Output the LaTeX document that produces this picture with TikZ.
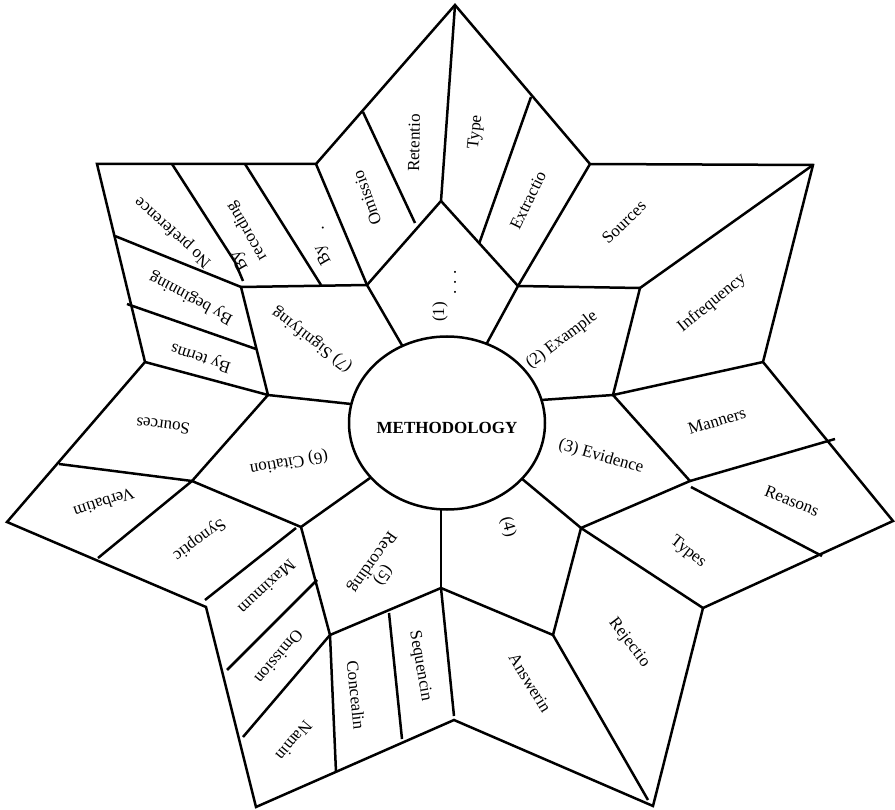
\documentclass[tikz,border=0pt]{standalone}
\usepackage{fontspec}
\setmainfont{Liberation Serif}
\usetikzlibrary{calc}
\begin{document}
\begin{tikzpicture}[x=1pt,y=-1pt,line width=2.5pt,line join=miter,
  lbl/.style={font=\fontsize{17}{19}\selectfont,inner sep=0pt}]
\useasboundingbox (0,0) rectangle (895,810);
% outer star
\coordinate (T) at (455,5);
\coordinate (URi) at (590,164);
\coordinate (URo) at (813,165);
\coordinate (Ri) at (763,362);
\coordinate (Ro) at (893,521);
\coordinate (LRi) at (703,608);
\coordinate (BRo) at (653,806);
\coordinate (Bi) at (454,720);
\coordinate (BLo) at (256,807);
\coordinate (LLi) at (206,607);
\coordinate (Lo) at (7,522);
\coordinate (Li) at (145,362);
\coordinate (ULo) at (97,164);
\coordinate (ULi) at (316,164);
% ring
\coordinate (M1) at (441,201);
\coordinate (A) at (367,285);
\coordinate (B) at (518,286);
\coordinate (C) at (640,288);
\coordinate (D) at (613,395);
\coordinate (E) at (690,481);
\coordinate (F) at (581,528);
\coordinate (G) at (553,635);
\coordinate (H) at (441,588);
\coordinate (I) at (330,635);
\coordinate (J) at (301,527);
\coordinate (K) at (192,481);
\coordinate (L) at (268,395);
\coordinate (N) at (241,287);
% ellipse points
\coordinate (eA) at (403,347);
\coordinate (eB) at (487,343);
\coordinate (eD) at (541,400);
\coordinate (eF) at (521,478);
\coordinate (eH) at (441,509);
\coordinate (eJ) at (370,478);
\coordinate (eL) at (351,404);
% separator ends
\coordinate (s1a) at (363,112); \coordinate (s1b) at (415,223);
\coordinate (s2a) at (531,97);  \coordinate (s2b) at (479,244);
\coordinate (s3a) at (245,164); \coordinate (s3b) at (321,285);
\coordinate (s4a) at (172,164); \coordinate (s4m) at (235,262); \coordinate (s4b) at (243,281);
\coordinate (s5a) at (115,236);
\coordinate (s6a) at (127,304); \coordinate (s6b) at (256,349);
\coordinate (s7a) at (59,464);
\coordinate (s8b) at (98,558);
\coordinate (s9a) at (296,528); \coordinate (s9b) at (205,600);
\coordinate (s10a) at (317,580); \coordinate (s10b) at (227,670);
\coordinate (s11b) at (243,737);
\coordinate (s12b) at (336,772);
\coordinate (s13a) at (389,613); \coordinate (s13b) at (402,739);
\coordinate (s14b) at (454,716);
\coordinate (s15b) at (648,800);
\coordinate (s16b) at (835,439);
\coordinate (s17a) at (691,487); \coordinate (s17b) at (822,556);

\draw (T) -- (URi) -- (URo) -- (Ri) -- (Ro) -- (LRi) -- (BRo) -- (Bi) -- (BLo) -- (LLi) -- (Lo) -- (Li) -- (ULo) -- (ULi) -- cycle;
\draw (A) -- (M1) -- (B) -- (C) -- (D) -- (E) -- (F) -- (G) -- (H) -- (I) -- (J) -- (K) -- (L) -- (N) -- (A);
\draw (T) -- (M1);
\draw (ULi) -- (A);
\draw (URi) -- (B);
\draw (C) -- (URo);
\draw (D) -- (Ri);
\draw (F) -- (LRi);
\draw (s1a) -- (s1b);
\draw (s2a) -- (s2b);
\draw (s3a) -- (s3b);
\draw (s4a) -- (s4m) -- (s4b);
\draw (s5a) -- (N);
\draw (s6a) -- (s6b);
\draw (Li) -- (L);
\draw (s7a) -- (K);
\draw (K) -- (s8b);
\draw (s9a) -- (s9b);
\draw (s10a) -- (s10b);
\draw (I) -- (s11b);
\draw (I) -- (s12b);
\draw (s13a) -- (s13b);
\draw (H) -- (s14b);
\draw (G) -- (s15b);
\draw (E) -- (s16b);
\draw (s17a) -- (s17b);
% spokes
\foreach \p/\q in {A/eA,B/eB,D/eD,F/eF,H/eH,J/eJ,L/eL}
  \draw (\p) -- ($(\p)!1.15!(\q)$);
\fill[white] (447,423) ellipse [x radius=98pt,y radius=86.5pt];
\draw (447,423) ellipse [x radius=98pt,y radius=86.5pt];
\node[lbl,font=\fontsize{17}{19}\selectfont\bfseries] (meth) at (447,428) {METHODOLOGY};

% labels
\node[lbl,rotate=89] (retentio) at (414,143) {Retentio};
\node[lbl,rotate=84] (type) at (476,132) {Type};
\node[lbl,rotate=110] (omissio) at (367,198) {Omissio};
\node[lbl,rotate=64] (extractio) at (528,200) {Extractio};
\node[lbl,rotate=44] (sourcesR) at (624,222) {Sources};
\node[lbl,rotate=39] (infreq) at (712,303) {Infrequency};
\node[lbl,rotate=37] (example) at (562,340) {(2) Example};
\node[lbl,rotate=17] (manners) at (717,421) {Manners};
\node[lbl,rotate=-16] (evidence) at (601,457) {(3) Evidence};
\node[lbl,rotate=-21.5] (reasons) at (792,501) {Reasons};
\node[lbl,rotate=-38] (types) at (688,552) {Types};
\node[lbl,rotate=-52.5] (rejectio) at (629,643) {Rejectio};
\node[lbl,rotate=-58.6] (answerin) at (530,683) {Answerin};
\node[lbl,rotate=-75] (four) at (508,527) {(4)};
\node[lbl,rotate=-80] (sequencin) at (420,666) {Sequencin};
\node[lbl,rotate=-84] (concealin) at (356,695) {Concealin};
\node[lbl,rotate=235] (five) at (383,575) {(5)};
\node[lbl,rotate=235] (recording) at (372,562) {Recording};
\node[lbl,rotate=230] (namin) at (294,741) {Namin};
\node[lbl,rotate=230] (omission) at (279,657) {Omission};
\node[lbl,rotate=223] (maximum) at (267,587) {Maximum};
\node[lbl,rotate=216] (synoptic) at (199,539) {Synoptic};
\node[lbl,rotate=198] (verbatim) at (104,503) {Verbatim};
\node[lbl,rotate=173] (sourcesL) at (163,426) {Sources};
\node[lbl,rotate=190] (citation) at (289,462) {(6) Citation};
\node[lbl,rotate=142.5] (signifying) at (312,340) {(7) Signifying};
\node[lbl,rotate=162] (byterms) at (201,357) {By terms};
\node[lbl,rotate=152] (bybeg) at (191,298) {By beginning};
\node[lbl,rotate=138] (nopref) at (173,232) {No preference};
\node[lbl,rotate=120] (byrec1) at (240,261) {By};
\node[lbl,rotate=120] (byrec2) at (247,231) {recording};
\node[lbl,rotate=120] (bydot1) at (323,255) {By};
\node[lbl,rotate=120] (bydot2) at (323,228) {.};
\node[lbl,rotate=90] (one) at (440,312) {(1)};
\node[lbl,rotate=90] (onedots) at (455,282) {. . .};
\end{tikzpicture}
\end{document}
